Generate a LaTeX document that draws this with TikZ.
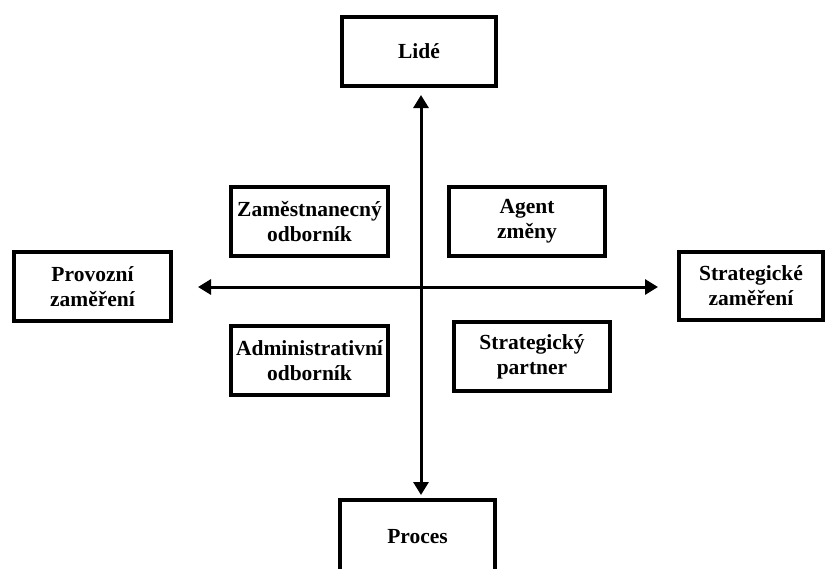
\documentclass[tikz,border=0pt]{standalone}
\usepackage{fontspec}
\setmainfont{Liberation Serif}
\usetikzlibrary{arrows.meta}
\begin{document}
\begin{tikzpicture}[x=1pt,y=-1pt,
  box/.style={draw=black,line width=4pt,fill=white,align=center,inner sep=0pt,
    font=\bfseries\fontsize{21.5}{25}\selectfont},
  axis/.style={line width=3pt,{Triangle[length=13pt,width=15pt]}-{Triangle[length=13pt,width=15pt]}}]
\useasboundingbox (0,0) rectangle (826,568);
\fill[white] (0,0) rectangle (826,568);
\begin{scope}
\clip (0,0) rectangle (826,568);
\node[box,minimum width=154pt,minimum height=69pt] (lide) at (419,51.5) {Lidé};
\node[box,minimum width=157pt,minimum height=69pt] (prov) at (92.5,286.5) {Provozní\\zaměření};
\node[box,minimum width=144pt,minimum height=68pt] (strat) at (751,286) {Strategické\\zaměření};
\node[box,minimum width=155pt,minimum height=90pt] (proc) at (417.5,545) {};
\node[font=\bfseries\fontsize{21.5}{25}\selectfont] (proct) at (417.5,537) {Proces};
\node[box,minimum width=157pt,minimum height=69pt] (zam) at (309.5,221.5) {Zaměstnanecný\\odborník};
\node[box,minimum width=156pt,minimum height=69pt] (agent) at (527,221.5) {Agent\\změny};
\node[box,minimum width=157pt,minimum height=69pt] (adm) at (309.5,360.5) {Administrativní\\odborník};
\node[box,minimum width=156pt,minimum height=69pt] (spart) at (532,356.5) {Strategický\\partner};
\coordinate (c) at (421,287);
\draw[axis,shorten <=7pt,shorten >=3pt] (c |- lide.south) -- (c |- proc.north);
\draw[axis,shorten <=25pt,shorten >=19pt] (prov.east |- c) -- (strat.west |- c);
\end{scope}
\end{tikzpicture}
\end{document}
